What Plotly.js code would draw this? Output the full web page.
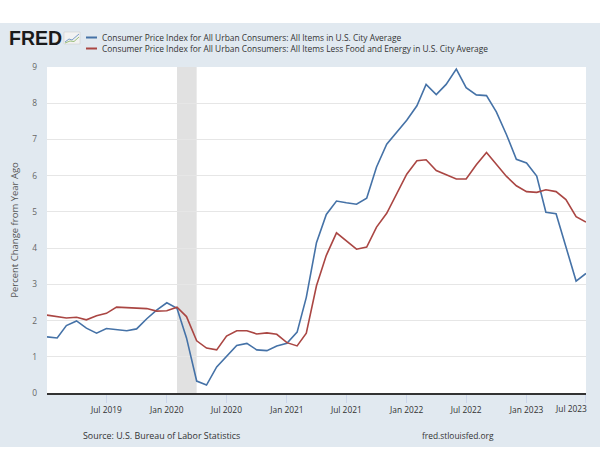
<!DOCTYPE html>
<html>
<head>
<meta charset="utf-8">
<script src="https://cdn.plot.ly/plotly-3.0.1.min.js"></script>
<style>
html,body{margin:0;padding:0;background:#ffffff;width:600px;height:464px;overflow:hidden;}
#chart{position:absolute;left:0;top:23px;width:600px;height:424px;}
</style>
</head>
<body>
<div id="chart"></div>
<script>
// ---- data ----
const dates = [
 "2019-01-01","2019-02-01","2019-03-01","2019-04-01","2019-05-01","2019-06-01","2019-07-01","2019-08-01","2019-09-01","2019-10-01","2019-11-01","2019-12-01",
 "2020-01-01","2020-02-01","2020-03-01","2020-04-01","2020-05-01","2020-06-01","2020-07-01","2020-08-01","2020-09-01","2020-10-01","2020-11-01","2020-12-01",
 "2021-01-01","2021-02-01","2021-03-01","2021-04-01","2021-05-01","2021-06-01","2021-07-01","2021-08-01","2021-09-01","2021-10-01","2021-11-01","2021-12-01",
 "2022-01-01","2022-02-01","2022-03-01","2022-04-01","2022-05-01","2022-06-01","2022-07-01","2022-08-01","2022-09-01","2022-10-01","2022-11-01","2022-12-01",
 "2023-01-01","2023-02-01","2023-03-01","2023-04-01","2023-05-01","2023-06-01","2023-07-01"
];
const cpiAll = [
 1.55,1.52,1.86,1.99,1.79,1.65,1.78,1.75,1.72,1.77,2.05,2.29,
 2.49,2.34,1.52,0.33,0.22,0.72,1.00,1.31,1.37,1.19,1.17,1.30,
 1.37,1.68,2.64,4.15,4.93,5.30,5.25,5.21,5.38,6.24,6.87,7.18,
 7.53,7.93,8.52,8.24,8.52,8.94,8.43,8.23,8.21,7.76,7.13,6.45,
 6.35,5.99,4.99,4.95,4.05,3.09,3.30
];
const cpiCore = [
 2.15,2.10,2.07,2.09,2.02,2.13,2.20,2.37,2.35,2.33,2.33,2.26,
 2.27,2.37,2.11,1.44,1.24,1.19,1.57,1.72,1.72,1.63,1.66,1.62,
 1.39,1.30,1.65,2.96,3.80,4.42,4.19,3.97,4.03,4.58,4.96,5.50,
 6.04,6.41,6.44,6.14,6.02,5.91,5.91,6.30,6.64,6.30,5.98,5.72,
 5.56,5.54,5.61,5.56,5.34,4.87,4.72
];
const seriesNames = [
 "Consumer Price Index for All Urban Consumers: All Items in U.S. City Average",
 "Consumer Price Index for All Urban Consumers: All Items Less Food and Energy in U.S. City Average"
];
const tickDates = ["2019-07-01","2020-01-01","2020-07-01","2021-01-01","2021-07-01","2022-01-01","2022-07-01","2023-01-01","2023-07-01"];
const tickLabels = ["Jul 2019","Jan 2020","Jul 2020","Jan 2021","Jul 2021","Jan 2022","Jul 2022","Jan 2023","Jul 2023"];
const yTicks = [0,1,2,3,4,5,6,7,8,9];
const recessionStart = "2020-02-01";
const recessionEnd = "2020-04-01";
const yTitle = "Percent Change from Year Ago";
const sourceText = "Source: U.S. Bureau of Labor Statistics";
const siteText = "fred.stlouisfed.org";

// ---- layout helpers (page pixels -> paper coords) ----
const TOP = 23, L = 47, R = 14, PT = 67, PB = 393, W = 600, H = 424;
const plotW = W - L - R, plotH = PB - PT;
const px = x => (x - L) / plotW;
const py = y => (PB - y) / plotH;

const colors = ["#4572a7", "#aa4643"];
const font = "'Open Sans', 'Noto Sans', sans-serif";
const small = 8.4;

// the last tick label is pulled inside the chart edge (as on FRED), drawn as an annotation
const axisTickText = tickLabels.slice(0, -1).concat([""]);
const lastTickLabel = tickLabels[tickLabels.length - 1];

const traces = [
 {x: dates, y: cpiAll, type: "scatter", mode: "lines", name: seriesNames[0], line: {color: colors[0], width: 1.6}, showlegend: false},
 {x: dates, y: cpiCore, type: "scatter", mode: "lines", name: seriesNames[1], line: {color: colors[1], width: 1.6}, showlegend: false}
];

const layout = {
 width: W, height: H,
 margin: {l: L, r: R, t: PT - TOP, b: H - (PB - TOP)},
 paper_bgcolor: "#e1e9f0",
 plot_bgcolor: "#ffffff",
 font: {family: font, color: "#333333", size: small},
 showlegend: false,
 xaxis: {
  type: "date",
  range: ["2019-01-01", "2023-07-01 04:00"],
  tickmode: "array", tickvals: tickDates, ticktext: axisTickText,
  showgrid: false, zeroline: false,
  showline: true, linecolor: "#333333", linewidth: 2,
  ticks: "outside", ticklen: 8, tickcolor: "#ccd6eb", tickwidth: 1,
  tickfont: {family: font, size: small, color: "#333333"},
  fixedrange: true
 },
 yaxis: {
  range: [0, 9],
  tickmode: "array", tickvals: yTicks,
  showgrid: true, gridcolor: "#e6e6e6", gridwidth: 1,
  zeroline: false, showline: false,
  ticks: "", ticklabelstandoff: 9,
  tickfont: {family: font, size: small, color: "#666666"},
  title: {text: yTitle, font: {family: font, size: 9.5, color: "#555555"}, standoff: 11},
  fixedrange: true
 },
 shapes: [
  {type: "rect", xref: "x", yref: "paper", x0: recessionStart, x1: recessionEnd, y0: 0, y1: 1,
   fillcolor: "#e1e1e1", line: {width: 0}, layer: "below"},
  {type: "line", xref: "paper", yref: "paper", x0: px(86), x1: px(97), y0: py(37.5), y1: py(37.5), line: {color: colors[0], width: 2}},
  {type: "line", xref: "paper", yref: "paper", x0: px(86), x1: px(97), y0: py(48.5), y1: py(48.5), line: {color: colors[1], width: 2}},
  // small FRED graph icon
  {type: "rect", xref: "paper", yref: "paper", x0: px(64), x1: px(80), y0: py(44), y1: py(32),
   fillcolor: "#f2f2f2", line: {color: "#c8c8c8", width: 0.5}},
  {type: "path", xref: "paper", yref: "paper",
   path: "M" + px(65) + "," + py(42) + " L" + px(69) + "," + py(39) + " L" + px(72) + "," + py(40) + " L" + px(79) + "," + py(34),
   line: {color: "#7a9cc6", width: 1}},
  {type: "path", xref: "paper", yref: "paper",
   path: "M" + px(65) + "," + py(43) + " L" + px(70) + "," + py(41) + " L" + px(74) + "," + py(41.5) + " L" + px(79) + "," + py(37),
   line: {color: "#9bbf7a", width: 1}}
 ],
 annotations: [
  {xref: "paper", yref: "paper", x: px(7), y: py(38.5), xanchor: "left", yanchor: "middle", showarrow: false,
   text: "<b>FRED</b>", font: {family: "'Liberation Sans', Arial, sans-serif", size: 19.5, color: "#1a1a1a"}},
  {xref: "paper", yref: "paper", x: px(100), y: py(37.2), xanchor: "left", yanchor: "middle", showarrow: false,
   text: seriesNames[0], font: {family: font, size: small, color: "#333333"}},
  {xref: "paper", yref: "paper", x: px(100), y: py(48.8), xanchor: "left", yanchor: "middle", showarrow: false,
   text: seriesNames[1], font: {family: font, size: small, color: "#333333"}},
  {xref: "paper", yref: "paper", x: px(571), y: py(408.5), xanchor: "center", yanchor: "middle", showarrow: false,
   text: lastTickLabel, font: {family: font, size: small, color: "#333333"}},
  {xref: "paper", yref: "paper", x: px(81), y: py(435), xanchor: "left", yanchor: "middle", showarrow: false,
   text: sourceText, font: {family: font, size: 8.9, color: "#333333"}},
  {xref: "paper", yref: "paper", x: px(420), y: py(435), xanchor: "left", yanchor: "middle", showarrow: false,
   text: siteText, font: {family: font, size: 8.4, color: "#333333"}}
 ]
};

Plotly.newPlot("chart", traces, layout, {displayModeBar: false, staticPlot: true});
</script>
</body>
</html>
